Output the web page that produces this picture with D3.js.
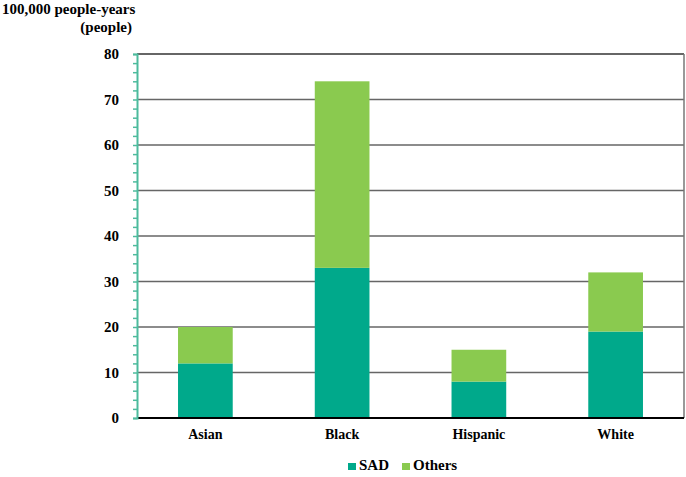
<!DOCTYPE html>
<html>
<head>
<meta charset="utf-8">
<script src="https://cdn.jsdelivr.net/npm/d3@7"></script>
<style>
body { margin: 0; background: #fff; }
svg text { font-family: "Liberation Serif", "Times New Roman", serif; font-weight: bold; fill: #000; }
</style>
</head>
<body>
<svg id="chart" width="686" height="477"></svg>
<script>
// chart data
var categories = ['Asian', 'Black', 'Hispanic', 'White'];
var sadValues = [12, 33, 8, 19];
var otherValues = [8, 41, 7, 13];
var seriesNames = ['SAD', 'Others'];
var seriesColors = ['#00a98b', '#8aca4f'];
var yTicks = [0, 10, 20, 30, 40, 50, 60, 70, 80];
var yMinorTicks = d3.range(0, 81, 2);

var svg = d3.select('#chart');
// plot area edges (note: "top" is reserved on window, so use plot* names)
var plotLeft = 137, plotRight = 684, plotTop = 54, plotBottom = 418;

var x = d3.scaleBand()
    .domain(categories)
    .range([plotLeft, plotRight])
    .paddingInner(0.6)
    .paddingOuter(0.3);

var y = d3.scaleLinear()
    .domain([0, 80])
    .range([plotBottom, plotTop]);

// gridlines
svg.selectAll('.grid')
    .data(yTicks.filter(d => d > 0))
    .join('line')
    .classed('grid', true)
    .attr('x1', plotLeft).attr('x2', plotRight)
    .attr('y1', d => y(d)).attr('y2', d => y(d))
    .attr('stroke', d => d == 80 ? '#333' : '#666')
    .attr('stroke-width', 1.5);

// right border
svg.append('line')
    .attr('x1', plotRight).attr('x2', plotRight)
    .attr('y1', y(80)).attr('y2', y(0))
    .attr('stroke', '#777').attr('stroke-width', 1.5);

// stacked bars
var rows = categories.map((c, i) => ({ cat: c, SAD: sadValues[i], Others: otherValues[i] }));
var stacked = d3.stack().keys(seriesNames)(rows);

svg.selectAll('.layer')
    .data(stacked)
    .join('g')
    .classed('layer', true)
    .attr('fill', (d, i) => seriesColors[i])
    .selectAll('rect')
    .data(d => d)
    .join('rect')
    .attr('x', d => x(d.data.cat))
    .attr('width', x.bandwidth())
    .attr('y', d => y(d[1]))
    .attr('height', d => y(d[0]) - y(d[1]));

// bottom axis line
svg.append('line')
    .attr('x1', plotLeft).attr('x2', plotRight)
    .attr('y1', plotBottom).attr('y2', plotBottom)
    .attr('stroke', '#000').attr('stroke-width', 2);

// left axis with minor ticks
var yAxis = d3.axisLeft(y)
    .tickValues(yMinorTicks)
    .tickSize(4)
    .tickFormat('');
var yAxisG = svg.append('g')
    .attr('transform', `translate(${plotLeft},0)`)
    .call(yAxis);
yAxisG.select('.domain').attr('stroke', '#4dbb9d').attr('stroke-width', 2);
yAxisG.selectAll('.tick line').attr('stroke', '#4dbb9d').attr('stroke-width', 1.5);

// y labels
svg.selectAll('.ylabel')
    .data(yTicks)
    .join('text')
    .classed('ylabel', true)
    .attr('x', 119)
    .attr('y', d => y(d))
    .attr('dy', '0.35em')
    .attr('text-anchor', 'end')
    .style('font-size', '15px')
    .text(d => d);

// x labels
svg.selectAll('.xlabel')
    .data(categories)
    .join('text')
    .classed('xlabel', true)
    .attr('x', d => x(d) + x.bandwidth() / 2)
    .attr('y', 439)
    .attr('text-anchor', 'middle')
    .style('font-size', '14px')
    .text(d => d);

// axis title
svg.append('text')
    .attr('x', 2).attr('y', 14)
    .style('font-size', '15px')
    .text('100,000 people-years');
svg.append('text')
    .attr('x', 132).attr('y', 32)
    .attr('text-anchor', 'end')
    .style('font-size', '15px')
    .text('(people)');

// legend
var legendX = [348, 402];
var legend = svg.selectAll('.legend')
    .data(seriesNames)
    .join('g')
    .classed('legend', true)
    .attr('transform', (d, i) => `translate(${legendX[i]},470)`);
legend.append('rect')
    .attr('x', 0).attr('y', -7)
    .attr('width', 8).attr('height', 7)
    .attr('fill', (d, i) => seriesColors[i]);
legend.append('text')
    .attr('x', 11).attr('y', 0)
    .style('font-size', '15px')
    .text(d => d);
</script>
</body>
</html>
